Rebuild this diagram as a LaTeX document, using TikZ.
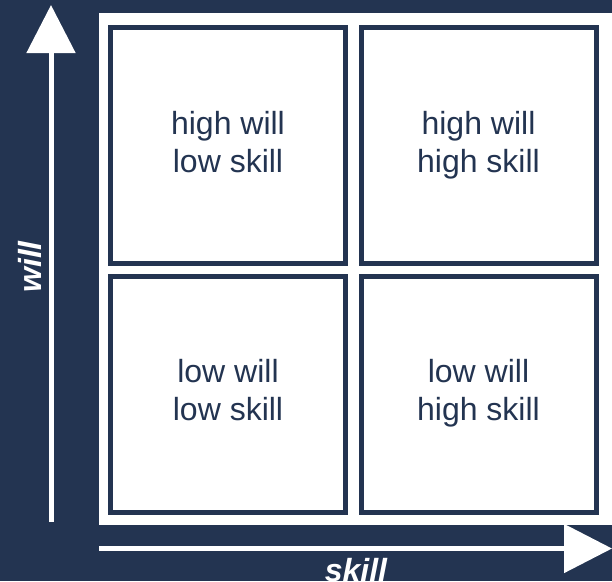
\documentclass[tikz,border=0pt]{standalone}
\usepackage{fontspec}
\setmainfont{Liberation Sans}
\usetikzlibrary{arrows.meta}
\definecolor{navy}{HTML}{233451}
\tikzset{
  quad/.style={draw=navy, line width=5pt, fill=white, minimum width=235pt, minimum height=236pt, inner sep=0pt, outer sep=0pt},
  quadtext/.style={text=navy, align=center, inner sep=0pt, font=\fontsize{32}{38}\selectfont},
  axis/.style={draw=white, line width=5pt, -{Triangle[length=48pt,width=48pt]}},
  axlabel/.style={text=white, font=\fontsize{32}{34}\selectfont\bfseries\itshape, inner sep=0pt}
}
\begin{document}
\begin{tikzpicture}[x=1pt,y=1pt]
\fill[navy] (0,0) rectangle (612,-581);
\useasboundingbox (0,0) rectangle (612,-581);
\fill[white] (99,-13) rectangle (612,-525);
\node[quad] (hl) at (228,-145.5) {};
\node[quad] (hh) at (478.5,-145.5) {};
\node[quad] (ll) at (228,-394) {};
\node[quad] (lh) at (478.5,-394) {};
\node[quadtext] (thl) at (hl.center) {\strut high will\\\strut low skill};
\node[quadtext] (thh) at (hh.center) {\strut high will\\\strut high skill};
\node[quadtext] (tll) at (ll.center) {\strut low will\\\strut low skill};
\node[quadtext] (tlh) at (lh.center) {\strut low will\\\strut high skill};
\coordinate (vs) at (51,-522);
\coordinate (ve) at (51,-5);
\coordinate (hs) at (99,-548.5);
\coordinate (he) at (612,-548.5);
\draw[axis] (vs) -- (ve);
\draw[axis] (hs) -- (he);
\node[axlabel, rotate=90] (wl) at (30,-267) {will};
\node[axlabel] (sl) at (356,-570) {skill};
\end{tikzpicture}
\end{document}
